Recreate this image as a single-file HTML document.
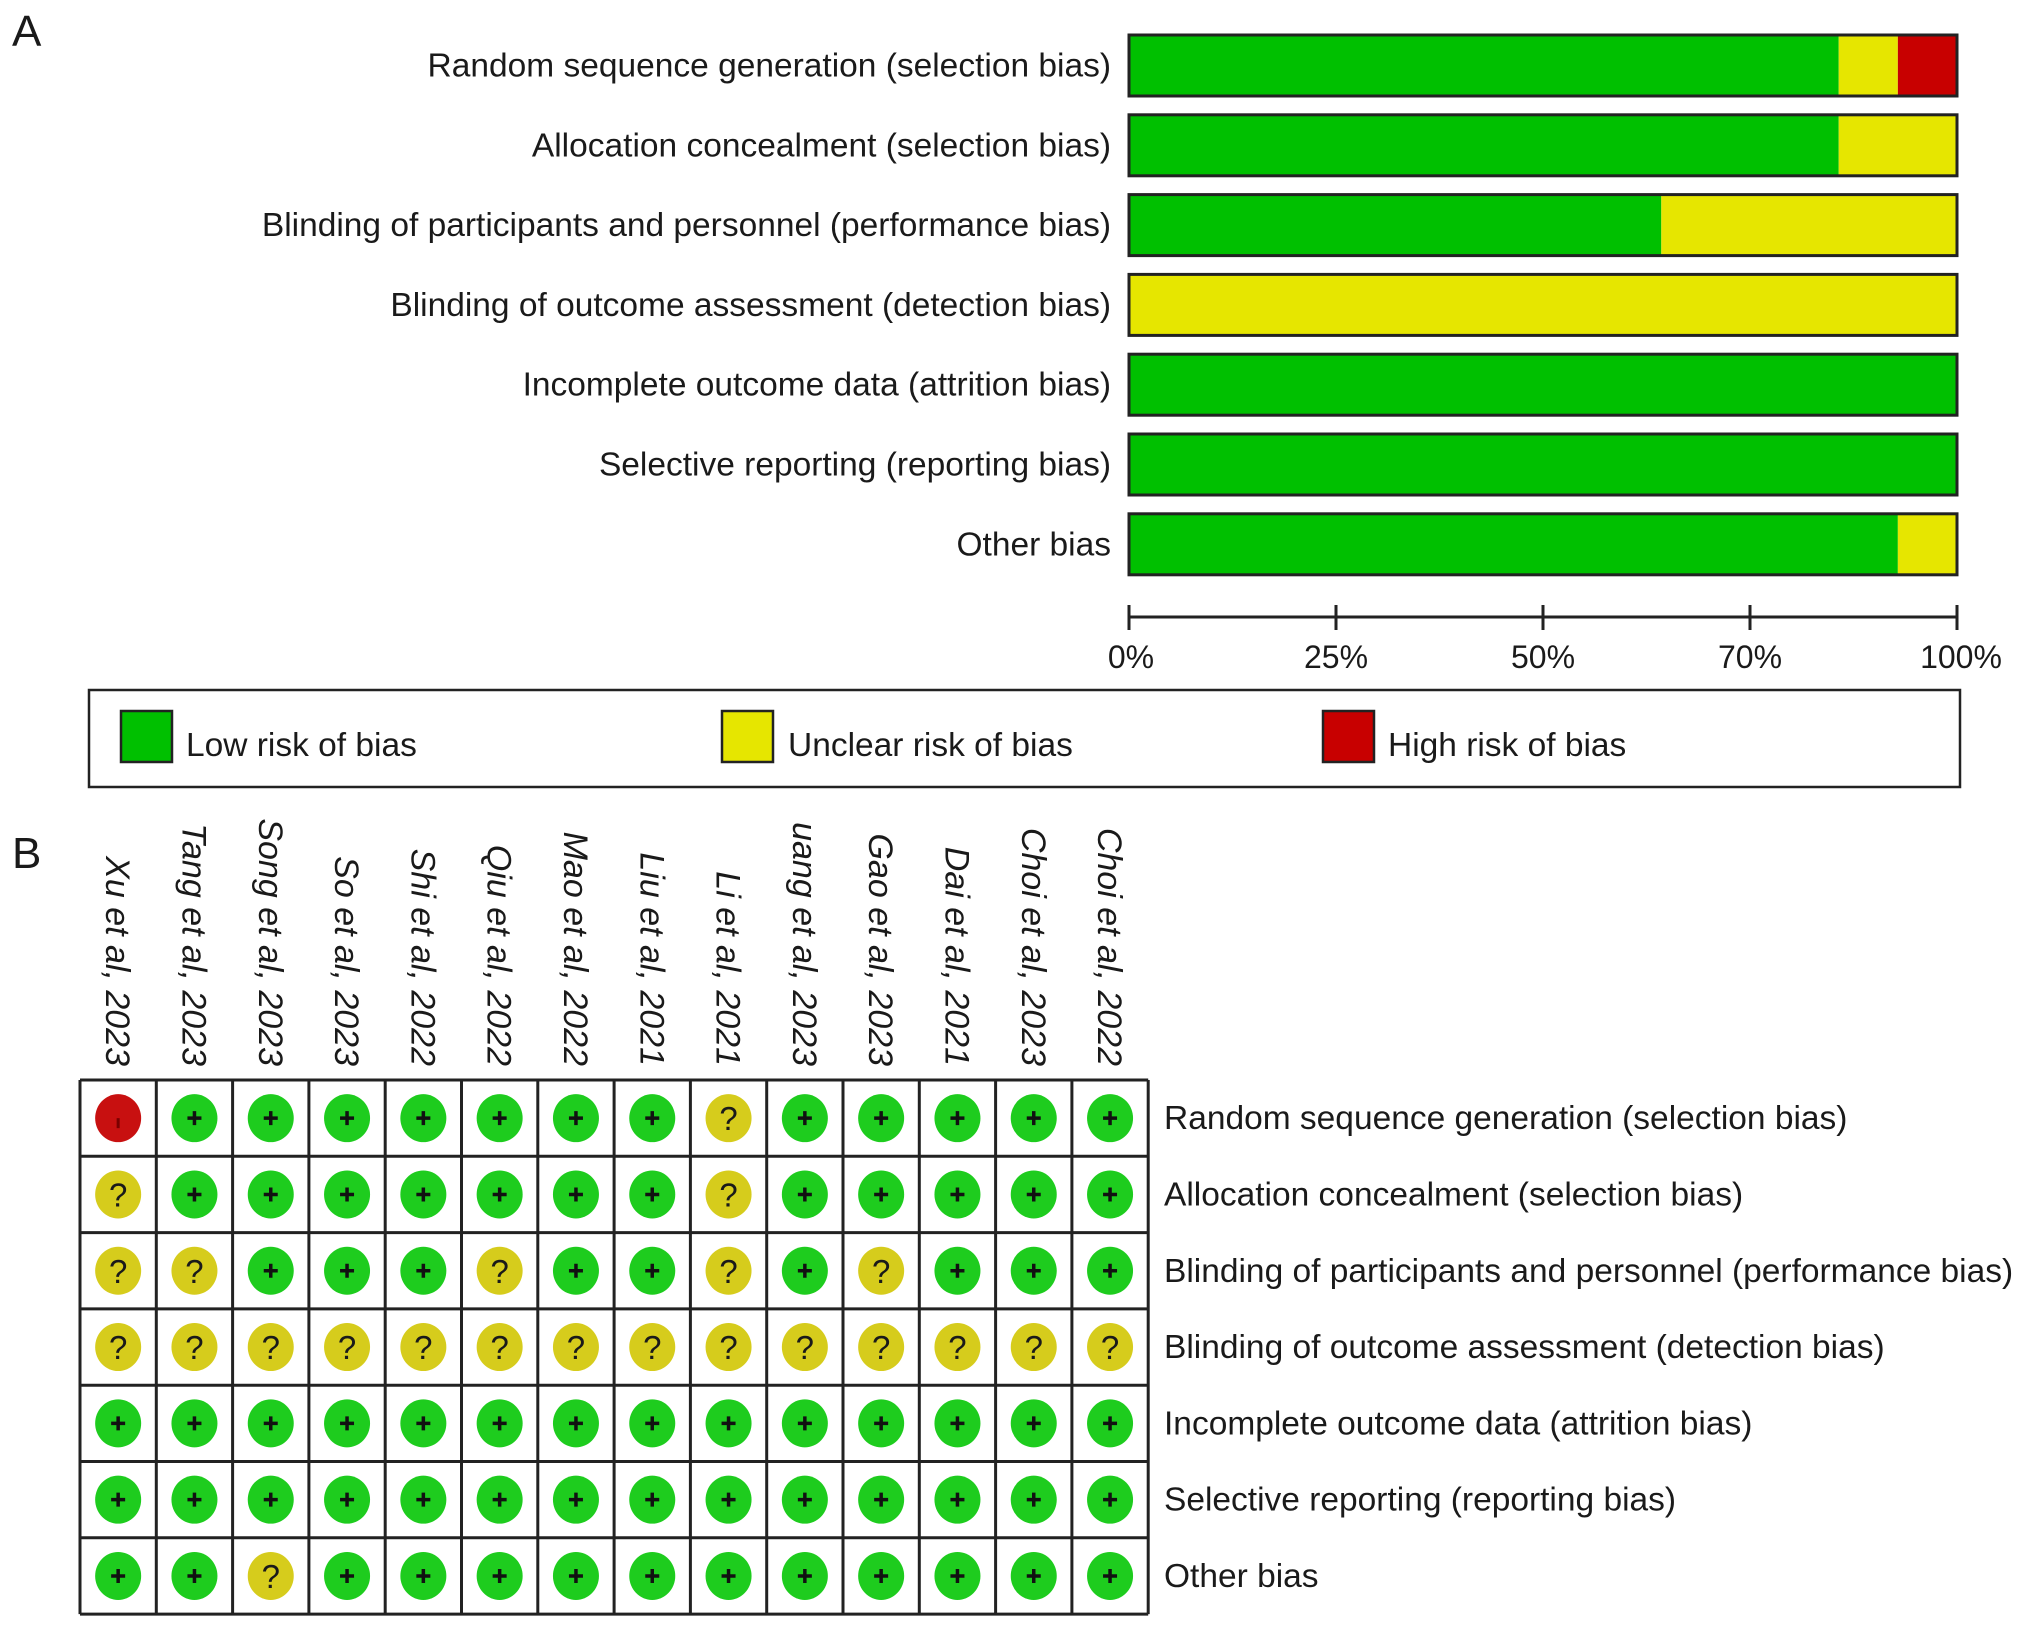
<!DOCTYPE html>
<html><head><meta charset="utf-8"><style>
html,body{margin:0;padding:0;background:#fff}
svg{display:block}
text{font-family:"Liberation Sans",Arial,sans-serif;fill:#1a1a1a}
</style></head><body>
<svg id="fig" width="2032" height="1630" viewBox="0 0 2032 1630" xmlns="http://www.w3.org/2000/svg">
<text x="12" y="46" font-size="44">A</text>
<text x="12" y="868" font-size="44">B</text>
<g id="barChart"></g>
<g id="legend">
<rect x="89" y="690" width="1871" height="97" fill="none" stroke="#222" stroke-width="2.5"/>
<rect x="121" y="711" width="51" height="51" fill="#00c000" stroke="#222" stroke-width="2.5"/>
<text x="186" y="756" font-size="33.5">Low risk of bias</text>
<rect x="722" y="711" width="51" height="51" fill="#e6e600" stroke="#222" stroke-width="2.5"/>
<text x="788" y="756" font-size="33.5">Unclear risk of bias</text>
<rect x="1323" y="711" width="51" height="51" fill="#c80000" stroke="#222" stroke-width="2.5"/>
<text x="1388" y="756" font-size="33.5">High risk of bias</text>
</g>
<g id="grid"></g>
</svg>
<script>
const domains = ["Random sequence generation (selection bias)","Allocation concealment (selection bias)","Blinding of participants and personnel (performance bias)","Blinding of outcome assessment (detection bias)","Incomplete outcome data (attrition bias)","Selective reporting (reporting bias)","Other bias"];
const lowCounts = [12,12,9,0,14,14,13];
const unclearCounts = [1,2,5,14,0,0,1];
const highCounts = [1,0,0,0,0,0,0];
const tickValues = [0,25,50,75,100];
const tickLabels = ["0%","25%","50%","70%","100%"];
const studies = ["Xu et al, 2023","Tang et al, 2023","Song et al, 2023","So et al, 2023","Shi et al, 2022","Qiu et al, 2022","Mao et al, 2022","Liu et al, 2021","Li et al, 2021","uang et al, 2023","Gao et al, 2023","Dai et al, 2021","Choi et al, 2023","Choi et al, 2022"];
const judgements = [
 "HLLLLLLLULLLLL",
 "ULLLLLLLULLLLL",
 "UULLLULLULULLL",
 "UUUUUUUUUUUUUU",
 "LLLLLLLLLLLLLL",
 "LLLLLLLLLLLLLL",
 "LLULLLLLLLLLLL"
];
const NS="http://www.w3.org/2000/svg";
function mk(tag,attrs,parent){const e=document.createElementNS(NS,tag);for(const k in attrs)e.setAttribute(k,attrs[k]);parent.appendChild(e);return e;}
// Panel A
const bc=document.getElementById('barChart');
const x0=1129,x1=1957;
const xs=v=>x0+(x1-x0)*v/100;
const barTop=i=>35+i*79.8, barH=61;
domains.forEach((d,i)=>{
  const total=lowCounts[i]+unclearCounts[i]+highCounts[i];
  const y=barTop(i);
  let acc=0;
  [[lowCounts[i],'#00c000','low'],[unclearCounts[i],'#e6e600','unclear'],[highCounts[i],'#c80000','high']].forEach(([c,col,nm])=>{
    if(c<=0)return;
    const a=acc/total*100,b=(acc+c)/total*100;acc+=c;
    const r=mk('rect',{x:xs(a),y:y,width:xs(b)-xs(a),height:barH,fill:col},bc);
    
    
  });
  const o=mk('rect',{x:x0,y:y,width:x1-x0,height:barH,fill:'none',stroke:'#222','stroke-width':3},bc);
  
  
  const t=mk('text',{x:1111,y:y+barH/2+11,'font-size':33.5,'text-anchor':'end'},bc);
  t.textContent=d;
  
  
});
const ax=mk('line',{x1:x0,y1:617,x2:x1,y2:617,stroke:'#222','stroke-width':3},bc);


tickValues.forEach((v,i)=>{
  const tk=mk('line',{x1:xs(v),y1:605,x2:xs(v),y2:630,stroke:'#222','stroke-width':3},bc);
  
  
  const tl=mk('text',{x:xs(v)+(i==0?2:0)+(i==tickValues.length-1?4:0),y:668,'font-size':32,'text-anchor':'middle'},bc);
  tl.textContent=tickLabels[i];
  
  
});
// Panel B
const g=document.getElementById('grid');
const gx=80,gy=1080,cw=76.3,ch=76.3;
studies.forEach((s,j)=>{
  const cx=gx+cw*(j+0.5);
  const t=mk('text',{x:0,y:0,'font-size':34,'font-style':'italic','text-anchor':'end',transform:`translate(${cx-12},1066) rotate(90)`},g);
  t.textContent=s;
  
  
});
judgements.forEach((row,i)=>{
  const cy=gy+ch*(i+0.5);
  row.split('').forEach((c,j)=>{
    const cx=gx+cw*(j+0.5);
    const col=c==='L'?'#1ecc1e':c==='U'?'#d6cc1c':'#c81010';
    const circ=mk('ellipse',{cx:cx,cy:cy,rx:23,ry:24,fill:col},g);
    
    
    if(c==='L'){
      const p=mk('path',{d:`M${cx-7} ${cy}H${cx+7}M${cx} ${cy-7}V${cy+7}`,stroke:'#111','stroke-width':3.5},g);
      
      
    } else if(c==='U'){
      const q=mk('text',{x:cx,y:cy+12,'font-size':33,'text-anchor':'middle'},g);
      q.textContent='?';
      
      
    } else {
      const m=mk('line',{x1:cx,y1:cy,x2:cx,y2:cy+10,stroke:'#7a0000','stroke-width':3},g);
      
      
    }
  });
  const t=mk('text',{x:1164,y:cy+11,'font-size':33.5},g);
  t.textContent=domains[i];
  
  
});
for(let j=0;j<=studies.length;j++){
  const l=mk('line',{x1:gx+cw*j,y1:gy,x2:gx+cw*j,y2:gy+ch*judgements.length,stroke:'#222','stroke-width':3},g);
  
  
}
for(let i=0;i<=judgements.length;i++){
  const l=mk('line',{x1:gx,y1:gy+ch*i,x2:gx+cw*studies.length,y2:gy+ch*i,stroke:'#222','stroke-width':3},g);
  
  
}
</script>
</body></html>
